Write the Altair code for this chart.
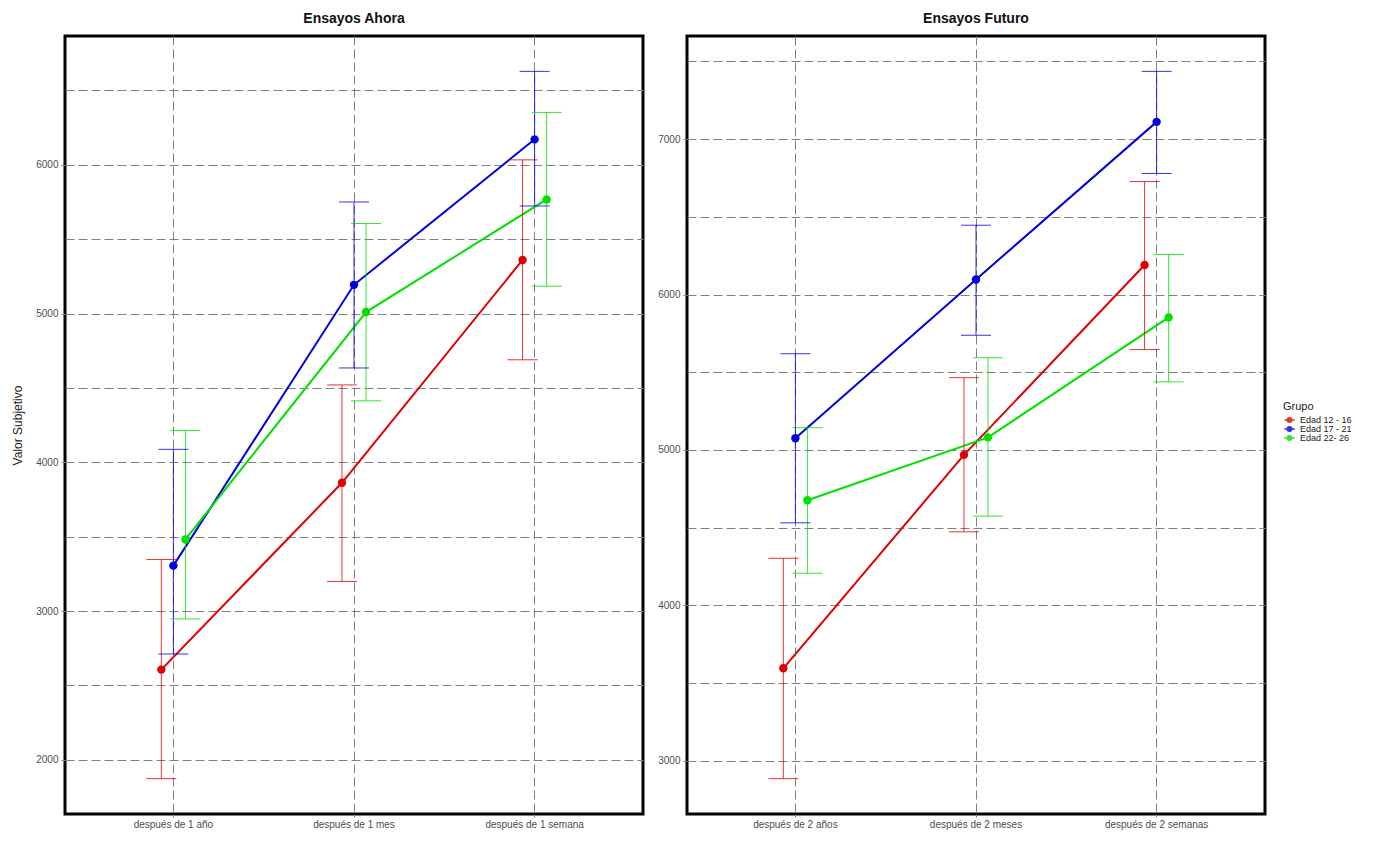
import altair as alt
import pandas as pd

grupos = ["Edad 12 - 16", "Edad 17 - 21", "Edad 22- 26"]
colores = ["#E00000", "#0000DD", "#00E000"]

# Panel "Ensayos Ahora"
ahora_cats = ["después de 1 año", "después de 1 mes", "después de 1 semana"]
ahora_media = {
    "Edad 12 - 16": [2606, 3862, 5360],
    "Edad 17 - 21": [3305, 5193, 6171],
    "Edad 22- 26": [3481, 5010, 5767],
}
ahora_inf = {
    "Edad 12 - 16": [1873, 3199, 4689],
    "Edad 17 - 21": [2711, 4634, 5723],
    "Edad 22- 26": [2947, 4413, 5184],
}
ahora_sup = {
    "Edad 12 - 16": [3346, 4520, 6033],
    "Edad 17 - 21": [4087, 5750, 6628],
    "Edad 22- 26": [4214, 5605, 6352],
}

# Panel "Ensayos Futuro"
futuro_cats = ["después de 2 años", "después de 2 meses", "después de 2 semanas"]
futuro_media = {
    "Edad 12 - 16": [3595, 4968, 6190],
    "Edad 17 - 21": [5075, 6097, 7111],
    "Edad 22- 26": [4676, 5081, 5853],
}
futuro_inf = {
    "Edad 12 - 16": [2885, 4473, 5646],
    "Edad 17 - 21": [4531, 5738, 6779],
    "Edad 22- 26": [4207, 4574, 5438],
}
futuro_sup = {
    "Edad 12 - 16": [4303, 5465, 6727],
    "Edad 17 - 21": [5619, 6446, 7436],
    "Edad 22- 26": [5143, 5593, 6258],
}

ahora_grid = [2000, 2500, 3000, 3500, 4000, 4500, 5000, 5500, 6000, 6500]
futuro_grid = [3000, 3500, 4000, 4500, 5000, 5500, 6000, 6500, 7000, 7500]

FONT = "Liberation Sans"
GRID = "#808080"


def tabla(cats, media, inf, sup):
    rows = []
    for g in grupos:
        for i, c in enumerate(cats):
            rows.append({"grupo": g, "cat": c, "media": media[g][i],
                         "inf": inf[g][i], "sup": sup[g][i]})
    return pd.DataFrame(rows)


def panel(df, cats, titulo, grid_vals, ytitle=None):
    lo = df["inf"].min()
    hi = df["sup"].max()
    pad = (hi - lo) * 0.05
    dom = [lo - pad, hi + pad]

    x = alt.X("cat:N", sort=cats,
              scale=alt.Scale(type="band", paddingInner=0.8, paddingOuter=0.5),
              axis=alt.Axis(title=None, bandPosition=0.5, grid=True,
                            gridDash=[9, 4], gridColor=GRID, gridWidth=1,
                            domain=False, tickColor=GRID, tickSize=3,
                            labelAngle=0, labelPadding=2, labelFontSize=10,
                            labelColor="#4d4d4d"))
    xo = alt.XOffset("grupo:N", sort=grupos)
    yaxis = alt.Axis(values=grid_vals,
                     labelExpr="datum.value % 1000 === 0 ? format(datum.value, 'd') : ''",
                     grid=True, gridDash=[9, 4], gridColor=GRID, gridWidth=1,
                     domain=False, tickColor=GRID, tickSize=4,
                     tickOpacity={"condition": {"test": "datum.value % 1000 === 0", "value": 1}, "value": 0},
                     labelPadding=3, labelFontSize=10, labelColor="#4d4d4d",
                     title=ytitle, titleFontSize=12, titleFontWeight="normal",
                     titleColor="#1a1a1a", titlePadding=11)
    yscale = alt.Scale(domain=dom, nice=False, zero=False)
    color = alt.Color("grupo:N", sort=grupos,
                      scale=alt.Scale(domain=grupos, range=colores),
                      legend=alt.Legend(title="Grupo", orient="none",
                                        legendX=1218, legendY=365,
                                        symbolType="M-1,0H1M0,-0.55V0.55M-0.42,0A0.42,0.42,0,1,0,0.42,0A0.42,0.42,0,1,0,-0.42,0Z",
                                        symbolSize=110, symbolStrokeWidth=1.6,
                                        labelFontSize=9, titleFontSize=11,
                                        titleFontWeight="normal", rowPadding=0,
                                        clipHeight=8,
                                        titlePadding=4, labelOffset=4,
                                        labelFont=FONT, titleFont=FONT,
                                        titleColor="#1a1a1a", labelColor="#1a1a1a"))

    base = alt.Chart(df)
    linea = base.mark_line(strokeWidth=2).encode(
        x=x, xOffset=xo, y=alt.Y("media:Q", scale=yscale, axis=yaxis), color=color)
    barra = base.mark_rule(strokeWidth=1, opacity=0.8).encode(
        x=x, xOffset=xo, y=alt.Y("inf:Q", scale=yscale, axis=yaxis), y2="sup:Q", color=color)
    tope = base.mark_tick(thickness=1, size=30, orient="horizontal", opacity=0.8).encode(
        x=x, xOffset=xo, y=alt.Y("sup:Q", scale=yscale, axis=yaxis), color=color)
    pie = base.mark_tick(thickness=1, size=30, orient="horizontal", opacity=0.8).encode(
        x=x, xOffset=xo, y=alt.Y("inf:Q", scale=yscale, axis=yaxis), color=color)
    punto = base.mark_circle(size=70, opacity=1).encode(
        x=x, xOffset=xo, y=alt.Y("media:Q", scale=yscale, axis=yaxis), color=color)

    return alt.layer(linea, barra, tope, pie, punto).properties(
        width=578, height=778,
        title=alt.TitleParams(titulo, fontSize=14, fontWeight="bold",
                              font=FONT, color="#111111", anchor="middle", offset=10))


df_ahora = tabla(ahora_cats, ahora_media, ahora_inf, ahora_sup)
df_futuro = tabla(futuro_cats, futuro_media, futuro_inf, futuro_sup)

chart = alt.hconcat(
    panel(df_ahora, ahora_cats, "Ensayos Ahora", ahora_grid, "Valor Subjetivo"),
    panel(df_futuro, futuro_cats, "Ensayos Futuro", futuro_grid),
    spacing=11,
).properties(
    padding={"left": 2, "top": 2, "right": 0, "bottom": 0},
    background="white",
).configure_view(
    stroke="black", strokeWidth=3
).configure_axis(
    labelFont=FONT, titleFont=FONT
)

chart.save("out.html", embed_options={"renderer": "svg", "actions": False})
